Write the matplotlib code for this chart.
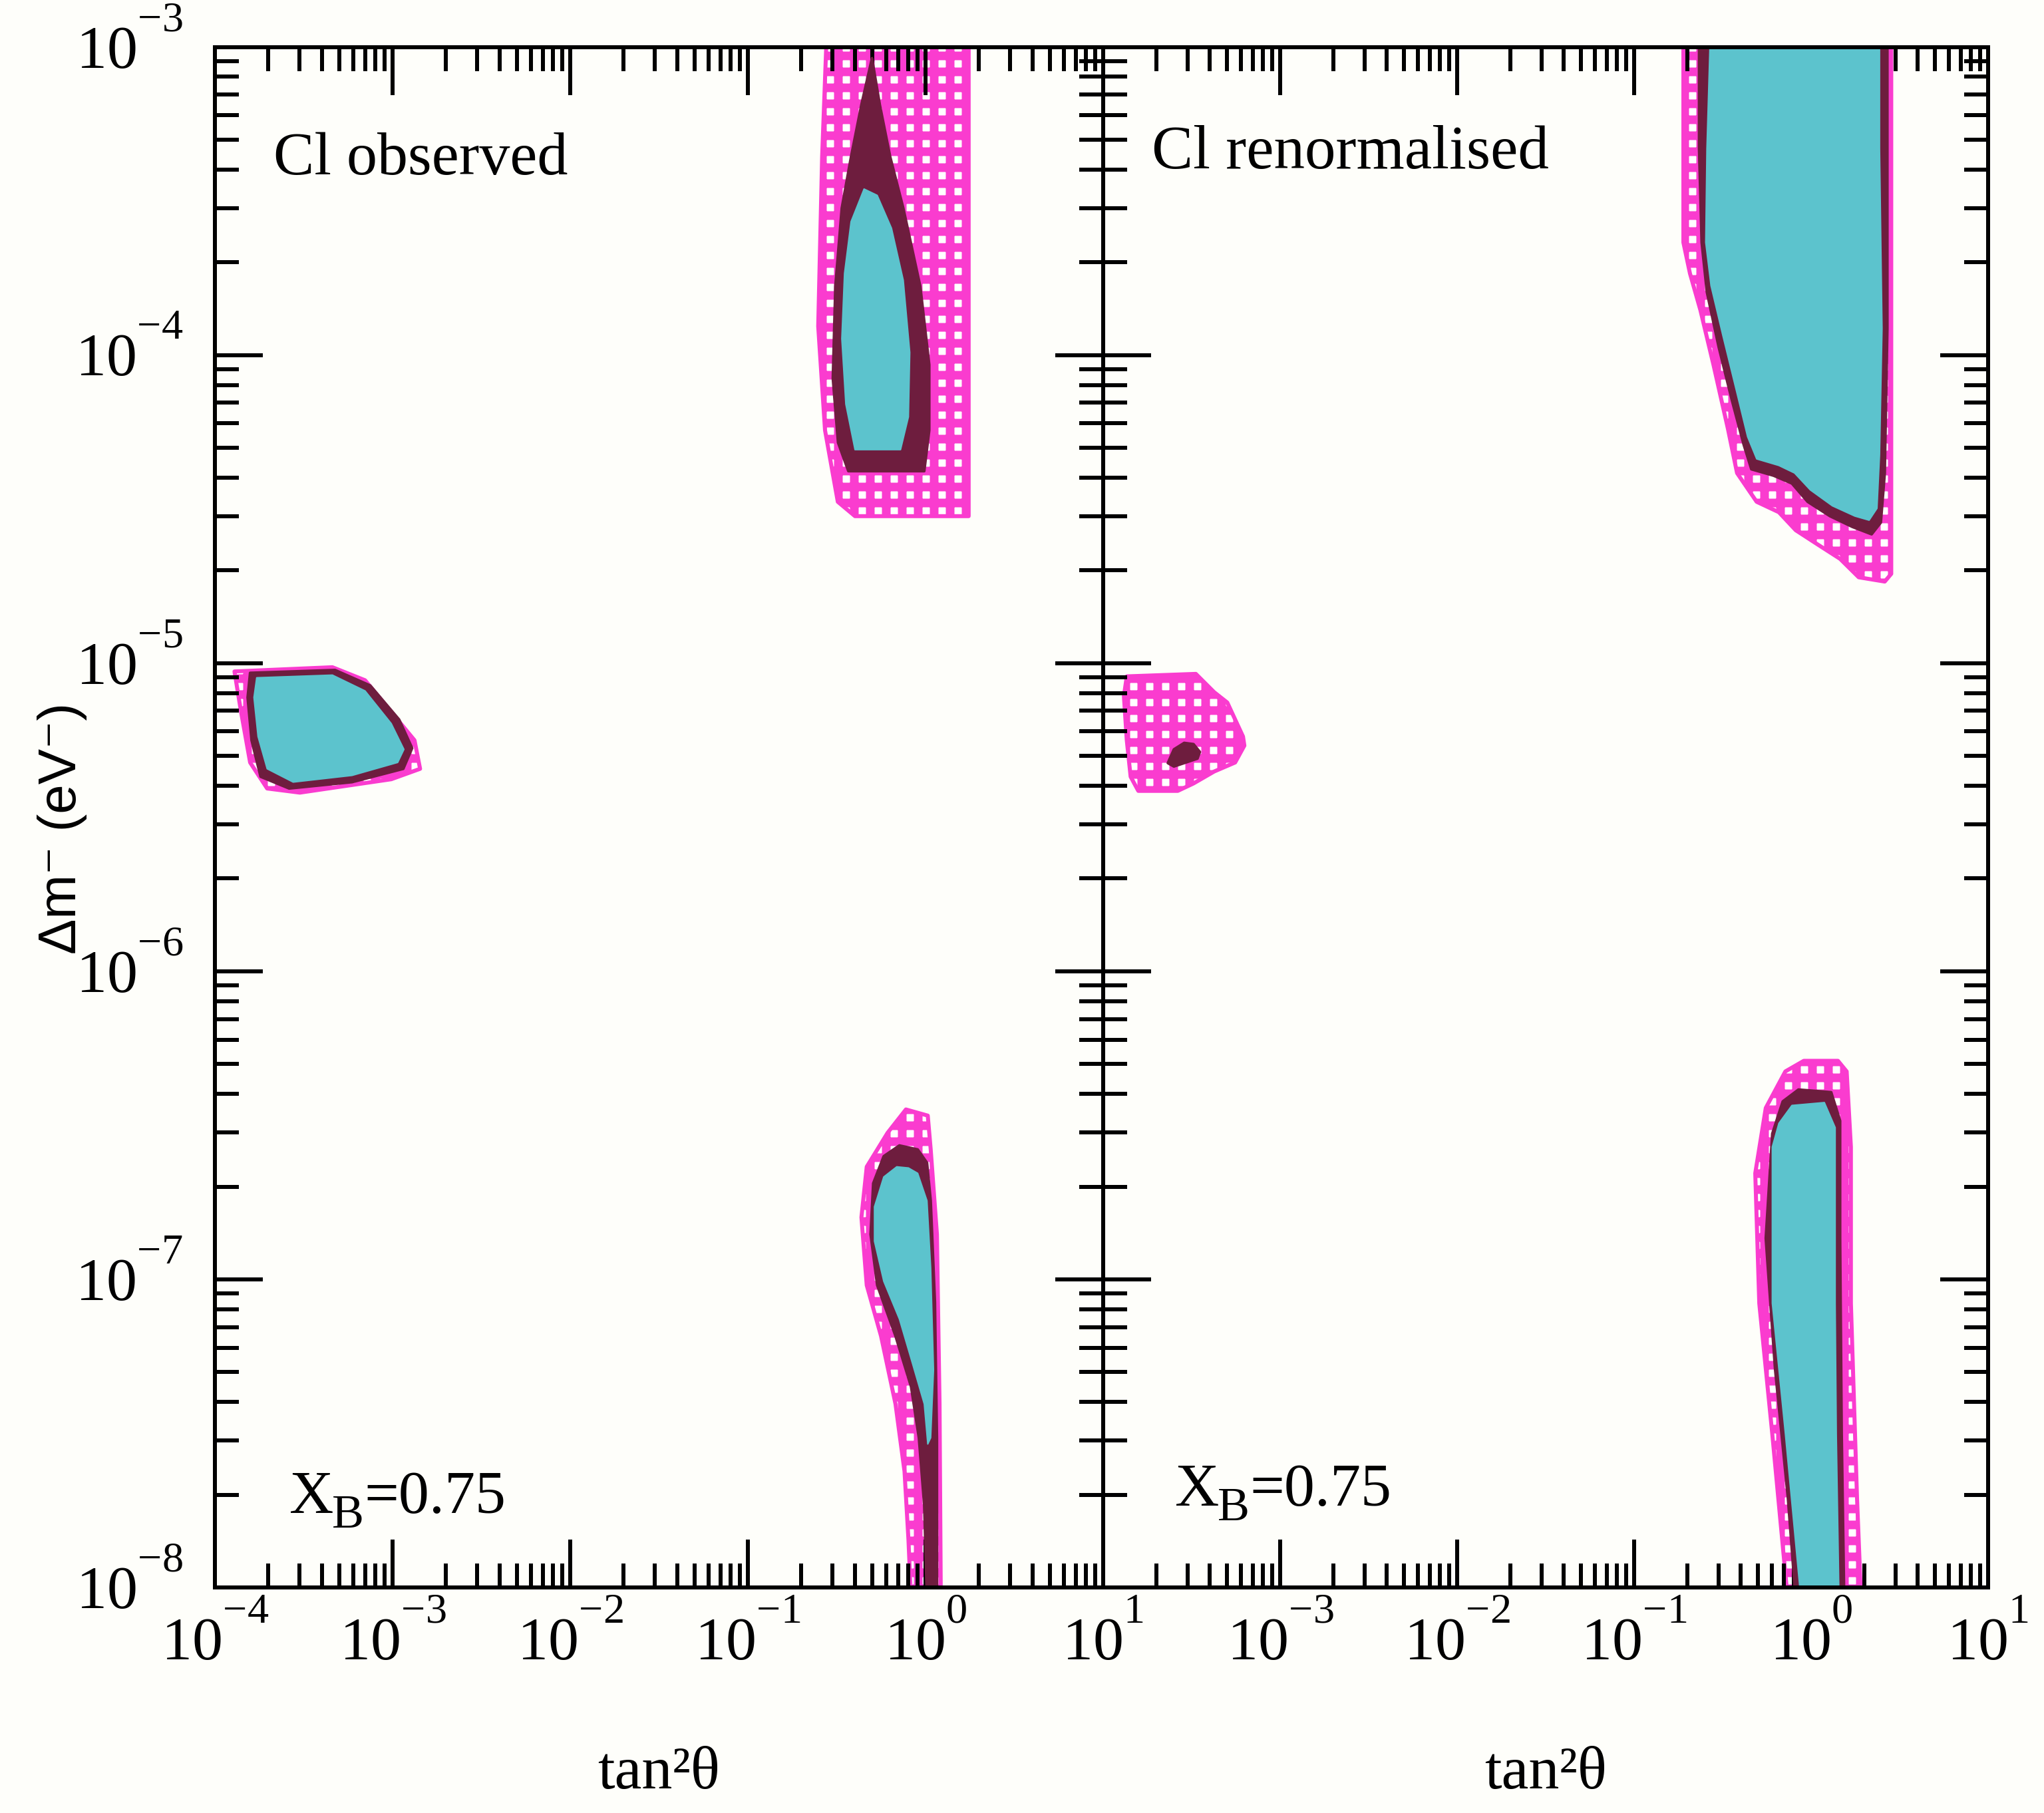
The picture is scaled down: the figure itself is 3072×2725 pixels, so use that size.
import numpy as np
import matplotlib
matplotlib.use("Agg")
import matplotlib.pyplot as plt
import matplotlib._mathtext as _mt
from matplotlib.patches import Polygon
from matplotlib.ticker import LogLocator, FuncFormatter, NullFormatter

plt.rcParams['font.family'] = ['Liberation Serif', 'DejaVu Serif']
plt.rcParams['mathtext.fontset'] = 'custom'
plt.rcParams['mathtext.rm'] = 'Liberation Serif'
plt.rcParams['mathtext.it'] = 'Liberation Serif:italic'
plt.rcParams['mathtext.bf'] = 'Liberation Serif:bold'
plt.rcParams['hatch.linewidth'] = 6.5
# raise superscripts a little higher, as in the reference typesetting
_mt.FontConstantsBase.sup1 = 1.3

# ---------------- data: allowed regions (tan^2 theta, delta m^2 in eV^2) ----------------
# Left panel: Cl observed
obs_lma_x99 = [0.281, 0.262, 0.249, 0.272, 0.321, 0.401, 1.75, 1.75]
obs_lma_y99 = [1.3e-3, 4.41e-4, 1.24e-4, 5.7e-5, 3.34e-5, 3.0e-5, 3.0e-5, 1.3e-3]
obs_lma_x95 = [0.500, 0.436, 0.381, 0.338, 0.311, 0.301, 0.322, 0.368, 0.984, 1.05, 1.05, 0.935, 0.750, 0.633, 0.553]
obs_lma_y95 = [9.2e-4, 6.5e-4, 4.4e-4, 3.0e-4, 1.67e-4, 8.4e-5, 5.2e-5, 4.2e-5, 4.2e-5, 5.7e-5, 9.3e-5, 1.67e-4, 3.0e-4, 4.4e-4, 6.5e-4]
obs_lma_x90 = [0.451, 0.381, 0.350, 0.338, 0.356, 0.401, 0.724, 0.802, 0.816, 0.750, 0.644, 0.535]
obs_lma_y90 = [3.46e-4, 2.71e-4, 1.84e-4, 1.13e-4, 6.93e-5, 4.93e-5, 4.93e-5, 6.3e-5, 1.02e-4, 1.75e-4, 2.58e-4, 3.3e-4]

obs_sma_x99 = [1.29e-4, 4.59e-4, 7.01e-4, 1.33e-3, 1.43e-3, 9.84e-4, 3.01e-4, 1.97e-4, 1.58e-4, 1.40e-4]
obs_sma_y99 = [9.4e-6, 9.7e-6, 8.8e-6, 5.62e-6, 4.54e-6, 4.2e-6, 3.8e-6, 3.92e-6, 4.76e-6, 7.03e-6]
obs_sma_x95 = [1.58e-4, 4.75e-4, 7.5e-4, 1.09e-3, 1.29e-3, 1.15e-3, 5.92e-4, 2.62e-4, 1.81e-4, 1.61e-4, 1.53e-4]
obs_sma_y95 = [9.3e-6, 9.5e-6, 8.46e-6, 6.56e-6, 5.3e-6, 4.54e-6, 4.11e-6, 3.92e-6, 4.28e-6, 5.62e-6, 7.74e-6]
obs_sma_x90 = [1.72e-4, 4.59e-4, 7.01e-4, 9.84e-4, 1.16e-3, 1.07e-3, 5.92e-4, 2.76e-4, 1.97e-4, 1.75e-4, 1.66e-4]
obs_sma_y90 = [8.97e-6, 9.15e-6, 8.13e-6, 6.37e-6, 5.25e-6, 4.76e-6, 4.32e-6, 4.11e-6, 4.54e-6, 5.78e-6, 7.74e-6]

obs_low_x99 = [0.776, 0.612, 0.467, 0.436, 0.467, 0.562, 0.678, 0.762, 0.802, 0.830, 1.22, 1.20, 1.16, 1.07, 1.03]
obs_low_y99 = [3.56e-7, 2.99e-7, 2.32e-7, 1.59e-7, 9.57e-8, 6.55e-8, 3.94e-8, 2.38e-8, 1.43e-8, 0.9e-8, 0.9e-8, 3.94e-8, 1.40e-7, 2.64e-7, 3.40e-7]
obs_low_x95 = [0.904, 0.713, 0.582, 0.508, 0.491, 0.535, 0.678, 0.830, 0.918, 0.984, 1.02, 1.16, 1.16, 1.13, 1.07, 1.02]
obs_low_y95 = [2.64e-7, 2.72e-7, 2.51e-7, 2.05e-7, 1.40e-7, 9.57e-8, 6.55e-8, 4.48e-8, 3.06e-8, 1.85e-8, 0.9e-8, 0.9e-8, 3.06e-8, 8.43e-8, 1.80e-7, 2.39e-7]
obs_low_x90 = [0.802, 0.689, 0.582, 0.516, 0.516, 0.582, 0.713, 0.844, 0.984, 1.03, 1.07, 1.11, 1.07, 1.02, 0.904]
obs_low_y90 = [2.30e-7, 2.32e-7, 2.15e-7, 1.72e-7, 1.33e-7, 9.86e-8, 7.43e-8, 5.34e-8, 3.94e-8, 2.92e-8, 3.06e-8, 5.08e-8, 1.09e-7, 1.80e-7, 2.21e-7]

# Right panel: Cl renormalised
ren_lma_x99 = [0.190, 0.190, 0.207, 0.237, 0.281, 0.339, 0.382, 0.493, 0.658, 0.820, 1.10, 1.46, 1.86, 2.61, 2.84, 2.84]
ren_lma_y99 = [1.3e-3, 2.32e-4, 1.84e-4, 1.40e-4, 9.3e-5, 5.77e-5, 4.14e-5, 3.34e-5, 3.09e-5, 2.70e-5, 2.42e-5, 2.18e-5, 1.90e-5, 1.84e-5, 1.95e-5, 1.3e-3]
ren_lma_x95 = [0.233, 0.233, 0.241, 0.258, 0.301, 0.357, 0.416, 0.460, 0.615, 0.780, 0.957, 1.28, 1.71, 2.20, 2.48, 2.61, 2.70, 2.70, 2.70]
ren_lma_y95 = [1.3e-3, 4.68e-4, 2.32e-4, 1.60e-4, 1.06e-4, 7.14e-5, 5.13e-5, 4.26e-5, 4.06e-5, 3.83e-5, 3.34e-5, 3.0e-5, 2.77e-5, 2.62e-5, 2.86e-5, 4.14e-5, 1.22e-4, 3.6e-4, 1.3e-3]
ren_lma_x90 = [0.272, 0.258, 0.254, 0.272, 0.317, 0.382, 0.438, 0.493, 0.658, 0.807, 0.990, 1.32, 1.77, 2.13, 2.36, 2.44, 2.52, 2.44, 2.44]
ren_lma_y90 = [1.3e-3, 4.68e-4, 2.32e-4, 1.68e-4, 1.16e-4, 7.5e-5, 5.43e-5, 4.60e-5, 4.38e-5, 4.14e-5, 3.65e-5, 3.24e-5, 3.0e-5, 2.91e-5, 3.18e-5, 4.74e-5, 1.22e-4, 4.68e-4, 1.3e-3]

ren_sma_x99 = [1.36e-4, 3.34e-4, 4.24e-4, 5.03e-4, 6.17e-4, 6.28e-4, 5.57e-4, 4.24e-4, 3.24e-4, 2.64e-4, 1.58e-4, 1.43e-4, 1.36e-4, 1.31e-4]
ren_sma_y99 = [9.06e-6, 9.23e-6, 8.05e-6, 7.45e-6, 5.78e-6, 5.40e-6, 4.76e-6, 4.45e-6, 4.07e-6, 3.85e-6, 3.85e-6, 4.28e-6, 5.62e-6, 7.82e-6]
ren_sma_x95 = [2.32e-4, 2.51e-4, 2.87e-4, 3.24e-4, 3.52e-4, 3.41e-4, 2.87e-4, 2.51e-4]
ren_sma_y95 = [4.74e-6, 5.25e-6, 5.51e-6, 5.46e-6, 5.15e-6, 4.90e-6, 4.74e-6, 4.62e-6]

ren_low_x99 = [0.910, 0.716, 0.555, 0.484, 0.510, 0.604, 0.741, 1.92, 1.82, 1.68, 1.68, 1.59, 1.42]
ren_low_y99 = [5.12e-7, 4.73e-7, 3.60e-7, 2.21e-7, 8.36e-8, 3.15e-8, 0.9e-8, 0.9e-8, 1.94e-8, 8.36e-8, 2.69e-7, 4.73e-7, 5.12e-7]
ren_low_x95 = [0.849, 0.692, 0.604, 0.555, 0.626, 0.741, 0.820, 1.54, 1.49, 1.46, 1.46, 1.30]
ren_low_y95 = [4.13e-7, 3.78e-7, 2.97e-7, 1.36e-7, 5.14e-8, 1.94e-8, 0.9e-8, 0.9e-8, 3.15e-8, 1.36e-7, 3.27e-7, 4.05e-7]
ren_low_x90 = [0.780, 0.658, 0.604, 0.604, 0.716, 0.879, 1.44, 1.39, 1.37, 1.37, 1.19]
ren_low_y90 = [3.67e-7, 3.21e-7, 2.69e-7, 8.36e-8, 3.15e-8, 0.9e-8, 0.9e-8, 3.15e-8, 8.36e-8, 3.11e-7, 3.75e-7]

panel_titles = ['Cl observed', 'Cl renormalised']
xb_parts = ['X', 'B', '=0.75']
x_label = 'tan²θ'
y_label = 'Δm⁻ (eV⁻)'
x_limits = (1e-4, 1e1)
y_limits = (1e-8, 1e-3)

MAGENTA = '#fa3ccf'
MAROON = '#6e1d3e'
CYAN = '#5cc3cd'
BG = '#fefefa'

left_regions = [
    (obs_lma_x99, obs_lma_y99, 99), (obs_lma_x95, obs_lma_y95, 95), (obs_lma_x90, obs_lma_y90, 90),
    (obs_sma_x99, obs_sma_y99, 99), (obs_sma_x95, obs_sma_y95, 95), (obs_sma_x90, obs_sma_y90, 90),
    (obs_low_x99, obs_low_y99, 99), (obs_low_x95, obs_low_y95, 95), (obs_low_x90, obs_low_y90, 90),
]
right_regions = [
    (ren_lma_x99, ren_lma_y99, 99), (ren_lma_x95, ren_lma_y95, 95), (ren_lma_x90, ren_lma_y90, 90),
    (ren_sma_x99, ren_sma_y99, 99), (ren_sma_x95, ren_sma_y95, 95),
    (ren_low_x99, ren_low_y99, 99), (ren_low_x95, ren_low_y95, 95), (ren_low_x90, ren_low_y90, 90),
]

W, H, DPI = 3072, 2725, 144
fig = plt.figure(figsize=(W / DPI, H / DPI), dpi=DPI, facecolor=BG)
ax1 = fig.add_axes([0.1051, 0.1244, 0.4346, 0.8497])
ax2 = fig.add_axes([0.5397, 0.1244, 0.4329, 0.8497])


def draw_region(ax, xs, ys, level):
    pts = np.column_stack([xs, ys])
    if level == 99:
        p = Polygon(pts, closed=True, facecolor='white', edgecolor=MAGENTA,
                    hatch='+', linewidth=3, joinstyle='round', zorder=1)
    elif level == 95:
        p = Polygon(pts, closed=True, facecolor=MAROON, edgecolor=MAROON,
                    linewidth=2, joinstyle='round', zorder=2)
    else:
        p = Polygon(pts, closed=True, facecolor=CYAN, edgecolor=CYAN,
                    linewidth=1, joinstyle='round', zorder=3)
    ax.add_patch(p)


def exp_fmt(v, pos):
    e = int(round(np.log10(v)))
    return r'$\mathregular{10^{%d}}$' % e


def exp_fmt_skip_first(v, pos):
    e = int(round(np.log10(v)))
    if e == -4:
        return ''
    return r'$\mathregular{10^{%d}}$' % e


for ax, regions in ((ax1, left_regions), (ax2, right_regions)):
    ax.set_facecolor('none')
    ax.set_xscale('log')
    ax.set_yscale('log')
    ax.set_xlim(*x_limits)
    ax.set_ylim(*y_limits)
    for xs, ys, lev in regions:
        draw_region(ax, xs, ys, lev)
    for axis in (ax.xaxis, ax.yaxis):
        axis.set_major_locator(LogLocator(base=10, numticks=20))
        axis.set_minor_locator(LogLocator(base=10, subs=np.arange(2, 10), numticks=20))
        axis.set_minor_formatter(NullFormatter())
    ax.tick_params(which='both', direction='in', top=True, right=True,
                   width=3, color='black', labelsize=46)
    ax.tick_params(which='major', length=36)
    ax.tick_params(which='minor', length=18)
    ax.tick_params(axis='x', pad=13)
    ax.tick_params(axis='y', pad=24)
    for s in ax.spines.values():
        s.set_linewidth(3)
        s.set_zorder(5)

ax1.xaxis.set_major_formatter(FuncFormatter(exp_fmt))
ax1.yaxis.set_major_formatter(FuncFormatter(exp_fmt))
ax2.xaxis.set_major_formatter(FuncFormatter(exp_fmt_skip_first))
ax2.yaxis.set_major_formatter(NullFormatter())
plt.setp(ax1.get_yticklabels(), va='center')

ax1.text(0.066, 0.927, panel_titles[0], transform=ax1.transAxes, fontsize=46, ha='left', va='center')
ax2.text(0.055, 0.931, panel_titles[1], transform=ax2.transAxes, fontsize=46.5, ha='left', va='center')


def xb_text(ax, x, y):
    tx = ax.text(x, y, xb_parts[0], transform=ax.transAxes, fontsize=46, ha='left', va='bottom')
    tb = ax.annotate(xb_parts[1], xy=(1, 0), xycoords=tx, xytext=(-1, -9),
                     textcoords='offset points', fontsize=36, ha='left', va='bottom')
    ax.annotate(xb_parts[2], xy=(1, 0), xycoords=(tb, tx), xytext=(0, 0),
                textcoords='offset points', fontsize=46, ha='left', va='bottom')


xb_text(ax1, 0.084, 0.040)
xb_text(ax2, 0.081, 0.045)

for ax in (ax1, ax2):
    ax.set_xlabel(x_label, fontsize=46, va='top')
    ax.xaxis.set_label_coords(0.5, -0.103)

ax1.set_ylabel(y_label, fontsize=40, family=['Liberation Sans', 'DejaVu Sans'])
ax1.yaxis.label.set_va('center')
ax1.yaxis.set_label_coords(-0.172, 0.493)

fig.savefig('out.png', dpi=DPI, facecolor=BG)
